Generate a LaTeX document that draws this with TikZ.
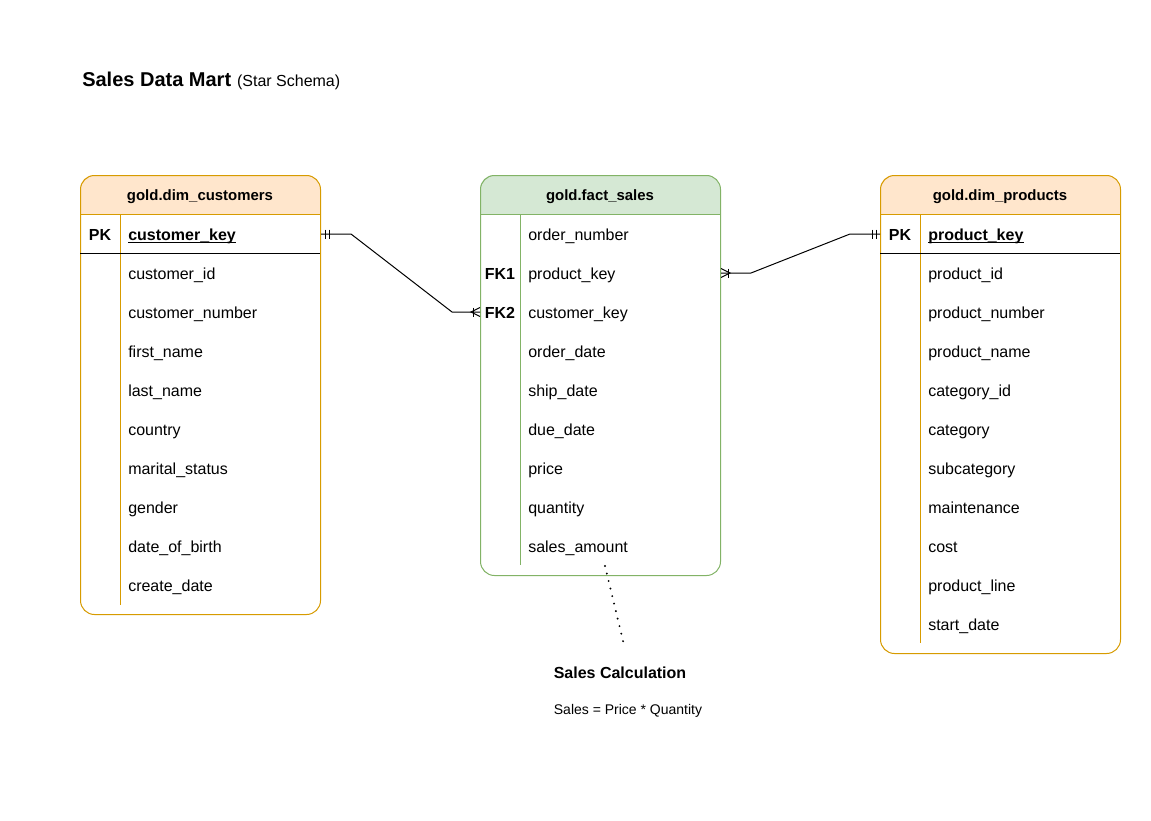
\documentclass[tikz,border=0pt]{standalone}
\usepackage{fontspec}
\setmainfont{Liberation Sans}
\usetikzlibrary{calc}
\definecolor{orfill}{HTML}{FFE6CC}
\definecolor{orline}{HTML}{D79B00}
\definecolor{grfill}{HTML}{D5E8D4}
\definecolor{grline}{HTML}{82B366}
\begin{document}
\begin{tikzpicture}[x=0.75pt,y=-0.75pt,
  tbl/.style={draw=#1, line width=0.75pt, rounded corners=10.5pt, inner sep=0pt, anchor=north west, minimum width=180pt},
  hdr/.style={font=\fontsize{11.2}{13}\selectfont\bfseries, anchor=base},
  fld/.style={font=\fontsize{12}{14}\selectfont, anchor=base west, inner sep=0pt},
  key/.style={font=\fontsize{12}{14}\selectfont\bfseries, anchor=base, inner sep=0pt},
  conn/.style={line width=0.75pt, black},
  ermark/.style={line width=0.75pt, black},
  uline/.style={line width=1pt, black}]
\useasboundingbox (0,0) rectangle (1151,820);
\fill[white] (0,0) rectangle (1151,820);

% title
\node[anchor=base west, inner sep=0pt, font=\fontsize{15}{17}\selectfont\bfseries] (title) at (82,87) {Sales Data Mart};
\node[anchor=base west, inner sep=0pt, font=\fontsize{12}{14}\selectfont] (subtitle) at ([xshift=4pt]title.base east) {(Star Schema)};

% ---------- customers ----------
\begin{scope}
  \clip (80,175) rectangle (320,214);
  \fill[orfill, rounded corners=10.5pt] (80,175) rectangle (320,614);
\end{scope}
\node[tbl=orline, minimum height=329.25pt] (cust) at (80,175) {};
\draw[orline, line width=0.75pt] (80,214) -- (320,214);
\draw[orline, line width=0.75pt] (120,214) -- (120,605);
\draw[black, line width=0.75pt] (80,253) -- (320,253);
\node[hdr] (custT) at (200,200) {gold.dim\_customers};
\node[key] (custPKl) at (100,240) {PK};
\node[fld, font=\fontsize{12}{14}\selectfont\bfseries] (custPKf) at (128,240) {customer\_key};
\draw[uline] ($(custPKf.base west)+(0,2.3)$) -- ($(custPKf.base east)+(0,2.3)$);
\foreach \t [count=\i] in {customer\_id,customer\_number,first\_name,last\_name,country,marital\_status,gender,date\_of\_birth,create\_date}
  \node[fld] (cf\i) at (128,{240+39*\i}) {\t};

% ---------- fact ----------
\begin{scope}
  \clip (480,175) rectangle (720,214);
  \fill[grfill, rounded corners=10.5pt] (480,175) rectangle (720,575);
\end{scope}
\node[tbl=grline, minimum height=300pt] (fact) at (480,175) {};
\draw[grline, line width=0.75pt] (480,214) -- (720,214);
\draw[grline, line width=0.75pt] (520,214) -- (520,565);
\node[hdr] (factT) at (600,200) {gold.fact\_sales};
\node[key] (fk1) at (500,279) {FK1};
\node[key] (fk2) at (500,318) {FK2};
\foreach \t [count=\i from 0] in {order\_number,product\_key,customer\_key,order\_date,ship\_date,due\_date,price,quantity,sales\_amount}
  \node[fld] (ff\i) at (528,{240+39*\i}) {\t};

% ---------- products ----------
\begin{scope}
  \clip (880,175) rectangle (1120,214);
  \fill[orfill, rounded corners=10.5pt] (880,175) rectangle (1120,653);
\end{scope}
\node[tbl=orline, minimum height=358.5pt] (prod) at (880,175) {};
\draw[orline, line width=0.75pt] (880,214) -- (1120,214);
\draw[orline, line width=0.75pt] (920,214) -- (920,643);
\draw[black, line width=0.75pt] (880,253) -- (1120,253);
\node[hdr] (prodT) at (1000,200) {gold.dim\_products};
\node[key] (prodPKl) at (900,240) {PK};
\node[fld, font=\fontsize{12}{14}\selectfont\bfseries] (prodPKf) at (928,240) {product\_key};
\draw[uline] ($(prodPKf.base west)+(0,2.3)$) -- ($(prodPKf.base east)+(0,2.3)$);
\foreach \t [count=\i] in {product\_id,product\_number,product\_name,category\_id,category,subcategory,maintenance,cost,product\_line,start\_date}
  \node[fld] (pf\i) at (928,{240+39*\i}) {\t};

% ---------- connectors ----------
\coordinate (cPK) at (cust.east |- 0,234);
\coordinate (fFK2) at (fact.west |- 0,312);
\coordinate (fFK1) at (fact.east |- 0,273);
\coordinate (pPK) at (prod.west |- 0,234);

\draw[conn] (cPK) -- ($(cPK)+(30,0)$) -- ($(fFK2)+(-28,0)$) -- (fFK2);
\draw[ermark] ($(cPK)+(4,-4.5)$) -- ($(cPK)+(4,4.5)$);
\draw[ermark] ($(cPK)+(8,-4.5)$) -- ($(cPK)+(8,4.5)$);
\draw[ermark] ($(fFK2)+(0,-4.5)$) -- ($(fFK2)+(-9,0)$) -- ($(fFK2)+(0,4.5)$);
\draw[ermark] ($(fFK2)+(-7,-4.5)$) -- ($(fFK2)+(-7,4.5)$);

\draw[conn] (fFK1) -- ($(fFK1)+(30,0)$) -- ($(pPK)+(-30,0)$) -- (pPK);
\draw[ermark] ($(pPK)+(-4,-4.5)$) -- ($(pPK)+(-4,4.5)$);
\draw[ermark] ($(pPK)+(-8,-4.5)$) -- ($(pPK)+(-8,4.5)$);
\draw[ermark] ($(fFK1)+(0,-4.5)$) -- ($(fFK1)+(9,0)$) -- ($(fFK1)+(0,4.5)$);
\draw[ermark] ($(fFK1)+(7,-4.5)$) -- ($(fFK1)+(7,4.5)$);

% ---------- note ----------
\node[anchor=base, inner sep=0pt, font=\fontsize{12}{14}\selectfont\bfseries] (noteT) at (620,678) {Sales Calculation};
\node[anchor=base, inner sep=0pt, font=\fontsize{10.5}{12}\selectfont] (noteB) at (628,714) {Sales = Price * Quantity};
\coordinate (dotA) at (605,566);
\coordinate (dotB) at (624,645);
\draw[line width=1.6pt, line cap=round, dash pattern=on 0pt off 5.8pt] (dotA) -- (dotB);
\end{tikzpicture}
\end{document}
